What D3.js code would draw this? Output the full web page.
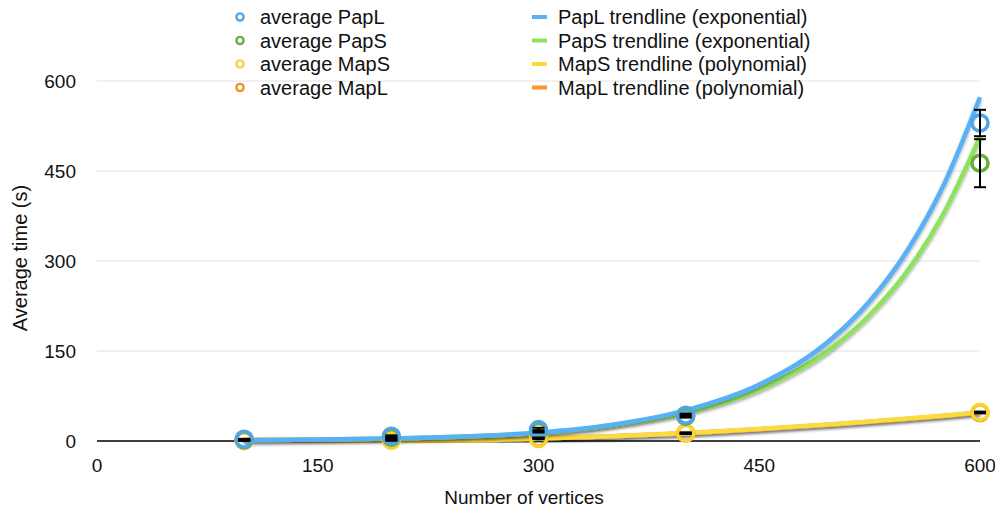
<!DOCTYPE html>
<html lang="en">
<head>
    <meta charset="UTF-8">
    <title>Average time vs number of vertices</title>
    <script src="https://d3js.org/d3.v7.min.js"></script>
    <style>
        body { margin: 0; background: #fff; }
        text { font-family: "Liberation Sans", Arial, Helvetica, sans-serif; fill: #111; }
    </style>
</head>
<body>
    <div id="chart"></div>

    <script>
        // averages at each graph size
        const vertices = [100, 200, 300, 400, 600];
        const avgPapL = [3, 8, 19, 43, 530];
        const avgPapS = [2, 6, 16, 41, 463];
        const avgMapS = [1, 1, 4, 13, 48];
        const avgMapL = [1, 2, 5, 13, 47];

        // error bar half-widths
        const errPapL = [0.6, 1.5, 3, 2.5, 22];
        const errPapS = [0.5, 1, 2, 2, 40];
        const errMapS = [0.3, 0.5, 0.8, 1, 1];
        const errMapL = [0.3, 0.5, 0.8, 1, 1];

        // trendlines
        const trendX = [100, 150, 200, 250, 300, 350, 400, 450, 500, 525, 550, 575, 600];
        const trendPapL = [1.4, 2.4, 4.2, 7.6, 13.8, 27, 51, 94, 172, 233, 315, 425, 573];
        const trendPapS = [1.4, 2.3, 4, 7.4, 13.4, 25.5, 47, 86, 156, 210, 281, 378, 507];
        const trendMapS = [2, 1.4, 0.5, 1.2, 4, 8, 13, 20, 28, 32.5, 37, 42, 48];
        const trendMapL = [2, 1.4, 0.5, 1.2, 4, 8, 13, 19.5, 27.5, 32, 36.5, 41.5, 47];

        const xTicks = [0, 150, 300, 450, 600];
        const yTicks = [0, 150, 300, 450, 600];

        const series = [
            { name: "average MapL", trend: "MapL trendline (polynomial)", avg: avgMapL, err: errMapL, line: trendMapL, dot: "#f0912e", stroke: "#f7982f" },
            { name: "average MapS", trend: "MapS trendline (polynomial)", avg: avgMapS, err: errMapS, line: trendMapS, dot: "#f7d531", stroke: "#fbdb3c" },
            { name: "average PapS", trend: "PapS trendline (exponential)", avg: avgPapS, err: errPapS, line: trendPapS, dot: "#6aae3d", stroke: "#8de45c" },
            { name: "average PapL", trend: "PapL trendline (exponential)", avg: avgPapL, err: errPapL, line: trendPapL, dot: "#4ea5e9", stroke: "#58b0f7" }
        ];

        const width = 995, height = 513;
        const svg = d3.select("#chart").append("svg")
            .attr("width", width)
            .attr("height", height);

        const defs = svg.append("defs");
        defs.append("filter")
            .attr("id", "shadow")
            .attr("x", "-5%").attr("y", "-5%")
            .attr("width", "110%").attr("height", "110%")
            .append("feDropShadow")
            .attr("dx", 0).attr("dy", 2)
            .attr("stdDeviation", 1.5)
            .attr("flood-color", "#000")
            .attr("flood-opacity", 0.35);

        const x = d3.scaleLinear().domain([0, 600]).range([97, 980]);
        const y = d3.scaleLinear().domain([0, 600]).range([441, 81]);

        // grid
        svg.append("g").selectAll("line")
            .data(yTicks.filter(d => d > 0))
            .enter().append("line")
            .attr("x1", x(0)).attr("x2", x(600))
            .attr("y1", d => y(d)).attr("y2", d => y(d))
            .attr("stroke", "#e2e2e2")
            .attr("stroke-width", 1);

        svg.append("line")
            .attr("x1", x(0)).attr("x2", x(600))
            .attr("y1", y(0)).attr("y2", y(0))
            .attr("stroke", "#000")
            .attr("stroke-width", 1.5);

        // tick labels
        svg.append("g").selectAll("text")
            .data(yTicks)
            .enter().append("text")
            .attr("x", 76)
            .attr("y", d => y(d) + 7)
            .attr("text-anchor", "end")
            .style("font-size", "19px")
            .text(d => d);

        svg.append("g").selectAll("text")
            .data(xTicks)
            .enter().append("text")
            .attr("x", d => x(d))
            .attr("y", 472)
            .attr("text-anchor", "middle")
            .style("font-size", "19px")
            .text(d => d);

        // axis titles
        svg.append("text")
            .attr("x", 524).attr("y", 504)
            .attr("text-anchor", "middle")
            .style("font-size", "19px")
            .text("Number of vertices");

        svg.append("text")
            .attr("transform", "translate(27,258) rotate(-90)")
            .attr("text-anchor", "middle")
            .style("font-size", "20px")
            .text("Average time (s)");

        // trendlines
        const line = d3.line()
            .x((d, i) => x(trendX[i]))
            .y(d => y(d))
            .curve(d3.curveMonotoneX);

        svg.append("g").selectAll("path")
            .data(series)
            .enter().append("path")
            .attr("d", d => line(d.line))
            .attr("fill", "none")
            .attr("stroke", d => d.stroke)
            .attr("stroke-width", 4.5)
            .attr("filter", "url(#shadow)");

        // data points
        series.forEach(s => {
            const g = svg.append("g");
            g.selectAll("circle")
                .data(s.avg)
                .enter().append("circle")
                .attr("cx", (d, i) => x(vertices[i]))
                .attr("cy", d => y(d))
                .attr("r", 8)
                .attr("fill", "none")
                .attr("stroke", s.dot)
                .attr("stroke-width", 3.5);
        });

        // error bars
        series.forEach(s => {
            const g = svg.append("g").attr("stroke", "#000").attr("stroke-width", 2);
            s.avg.forEach((v, i) => {
                const cx = x(vertices[i]);
                const top = y(v + s.err[i]), bot = y(v - s.err[i]);
                g.append("line").attr("x1", cx).attr("x2", cx).attr("y1", top).attr("y2", bot);
                g.append("line").attr("x1", cx - 6).attr("x2", cx + 6).attr("y1", top).attr("y2", top);
                g.append("line").attr("x1", cx - 6).attr("x2", cx + 6).attr("y1", bot).attr("y2", bot);
            });
        });

        // legend
        const legendOrder = [series[3], series[2], series[1], series[0]];
        const legend = svg.append("g");
        legendOrder.forEach((s, i) => {
            const cy = 17 + i * 23.5;
            legend.append("circle")
                .attr("cx", 240).attr("cy", cy)
                .attr("r", 3.6)
                .attr("fill", "none")
                .attr("stroke", s.dot)
                .attr("stroke-width", 2.4);
            legend.append("text")
                .attr("x", 260).attr("y", cy + 7)
                .style("font-size", "20px")
                .text(s.name);
            legend.append("line")
                .attr("x1", 532).attr("x2", 547)
                .attr("y1", cy).attr("y2", cy)
                .attr("stroke", s.stroke)
                .attr("stroke-width", 4);
            legend.append("text")
                .attr("x", 558).attr("y", cy + 7)
                .style("font-size", "20px")
                .text(s.trend);
        });
    </script>
</body>
</html>
